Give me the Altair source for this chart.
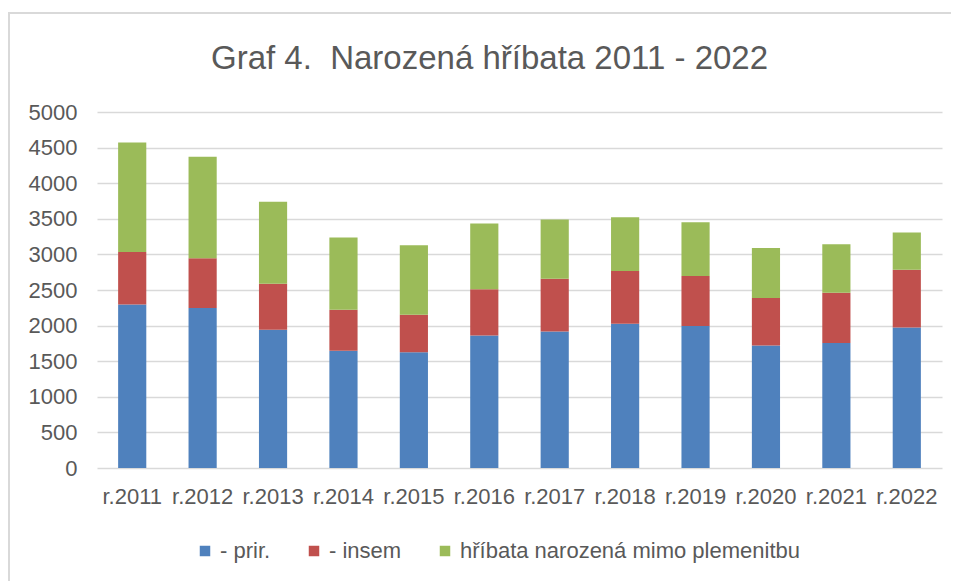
import altair as alt
import pandas as pd

years = ["r.2011", "r.2012", "r.2013", "r.2014", "r.2015", "r.2016",
         "r.2017", "r.2018", "r.2019", "r.2020", "r.2021", "r.2022"]
series = ["- prir.", "- insem", "hříbata narozená mimo plemenitbu"]
prir = [2298, 2247, 1942, 1646, 1627, 1862, 1918, 2026, 1993, 1721, 1754, 1974]
insem = [737, 698, 647, 577, 526, 647, 741, 741, 704, 666, 708, 812]
mimo = [1538, 1426, 1149, 1013, 975, 924, 830, 755, 755, 704, 680, 520]
colors = ["#4F81BD", "#C0504D", "#9BBB59"]

rows = []
for i, y in enumerate(years):
    for k, (name, vals) in enumerate(zip(series, [prir, insem, mimo])):
        rows.append({"rok": y, "serie": name, "hodnota": vals[i], "poradi": k})
df = pd.DataFrame(rows)

FONT = "Liberation Sans"
TXT = "#595959"

bars = alt.Chart(df).mark_bar().encode(
    x=alt.X("rok:N", sort=years, title=None,
            scale=alt.Scale(paddingInner=0.6, paddingOuter=0.3),
            axis=alt.Axis(labelAngle=0, labelFontSize=22, labelFont=FONT,
                          labelColor=TXT, ticks=False, domain=False,
                          labelPadding=18, grid=False)),
    y=alt.Y("hodnota:Q", stack="zero", title=None,
            scale=alt.Scale(domain=[0, 5000]),
            axis=alt.Axis(values=list(range(0, 5001, 500)), format="d",
                          labelFontSize=22,
                          labelFont=FONT, labelColor=TXT, ticks=False,
                          domain=False, labelPadding=20, grid=True,
                          gridColor="#d9d9d9", gridWidth=1.5)),
    color=alt.Color("serie:N", scale=alt.Scale(domain=series, range=colors),
                    legend=alt.Legend(title=None, orient="none", legendX=97,
                                      legendY=428, direction="horizontal",
                                      symbolType="square", symbolSize=110,
                                      symbolStrokeWidth=0, labelFontSize=22,
                                      labelFont=FONT, labelColor=TXT,
                                      columnPadding=32, labelLimit=500)),
    order=alt.Order("poradi:Q", sort="ascending"),
)

border = alt.Chart(pd.DataFrame({"a": [0]})).mark_rect(
    fill=None, stroke="#d9d9d9", strokeWidth=2
).encode(
    x=alt.value(-88), x2=alt.value(900), y=alt.value(-99), y2=alt.value(520)
)

chart = alt.layer(border, bars).properties(
    width=845, height=356,
    title=alt.TitleParams("Graf 4.\u00a0 Narozená hříbata 2011 - 2022",
                          fontSize=33, font=FONT, color=TXT, fontWeight="normal",
                          anchor="middle", frame="group", dx=-30, offset=-64),
    autosize=alt.AutoSizeParams(type="none"),
    padding={"left": 89, "top": 104, "right": 9, "bottom": 113},
).configure_view(stroke=None)

chart.save("out.html", embed_options={"renderer": "svg", "actions": False})
